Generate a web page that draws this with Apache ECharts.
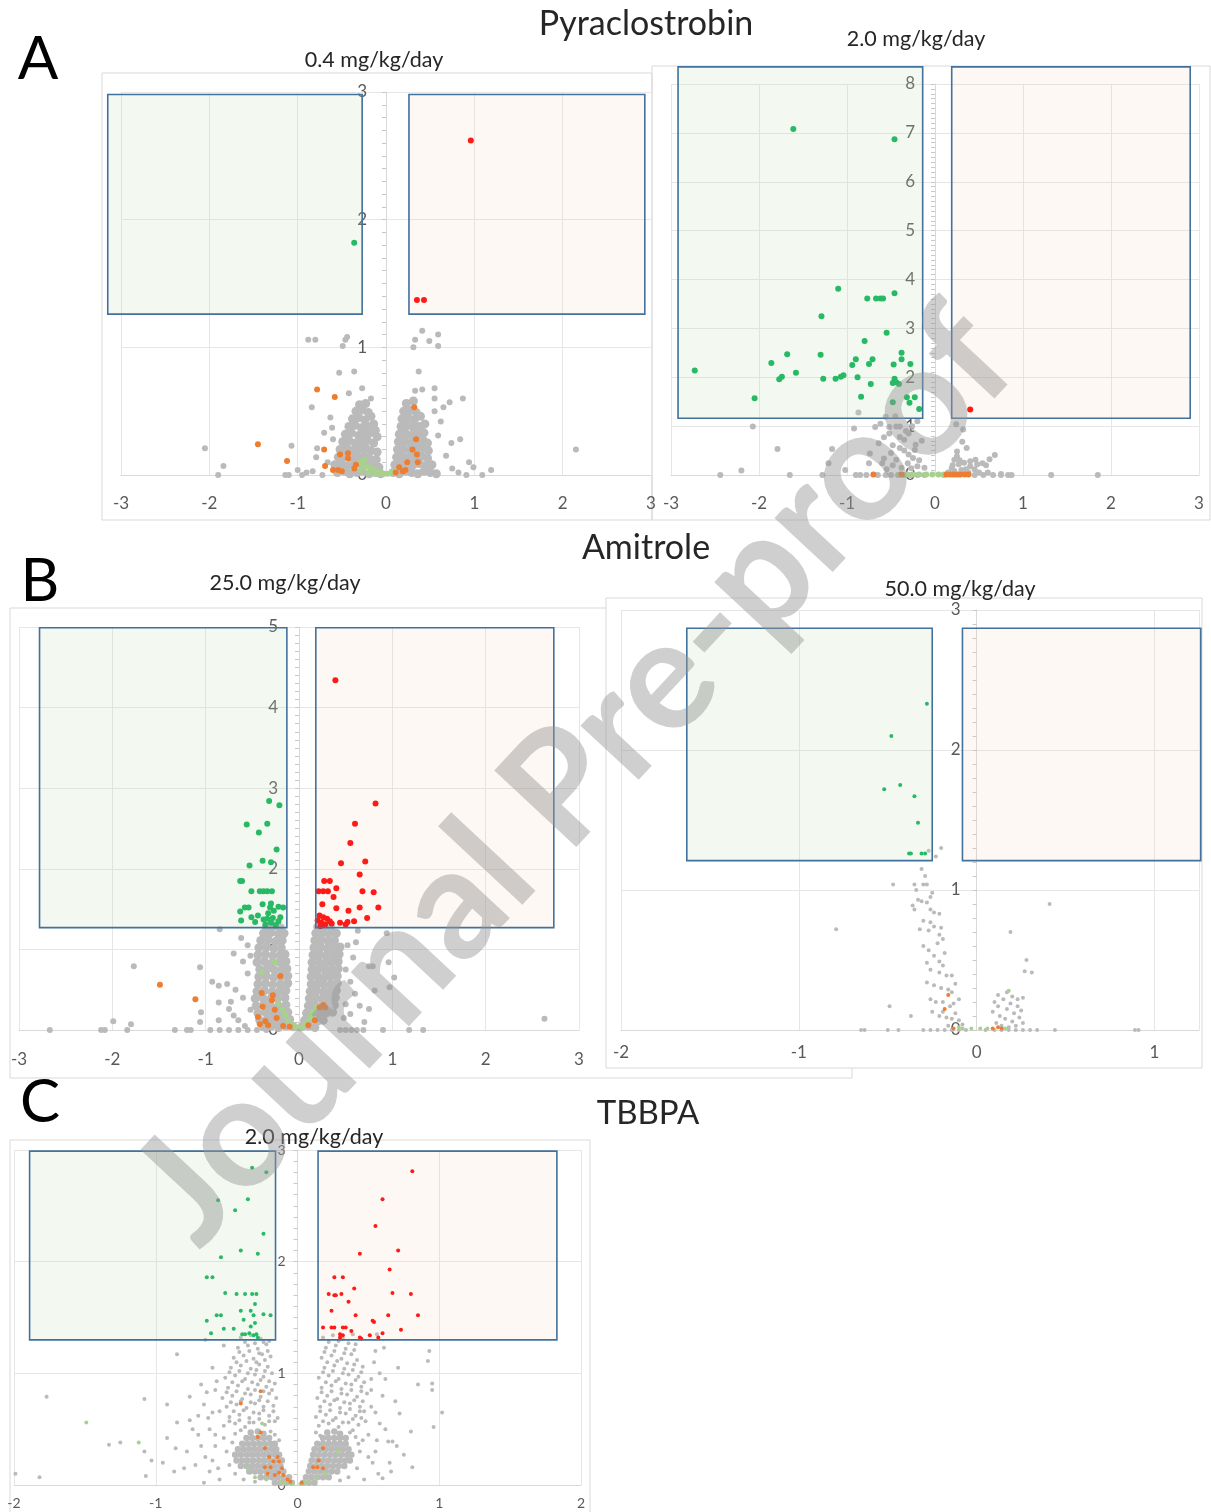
<!DOCTYPE html>
<html>
<head>
<meta charset="utf-8">
<script src="https://cdn.jsdelivr.net/npm/echarts@6/dist/echarts.min.js"></script>
<style>
  html, body { margin: 0; padding: 0; background: #fff; }
  #chart { width: 1211px; height: 1512px; }
</style>
</head>
<body>
<div id="chart"></div>
<script>
// ---- data: [log2 fold change, -log10 p] ----

// A, Pyraclostrobin 0.4 mg/kg/day
const aLeftGray = [
  [-2.05,0.21],[-1.84,0.07],[-1.9,0],[-1.14,0],[-1.1,0],[-1.07,0.23],[-1.0,0.04],[-0.9,0.02],[-0.95,0],[-0.83,0.03],
  [-0.78,0.21],[-0.79,0.14],[-0.72,0],[-0.66,0.1],[-0.84,0.53],[-0.61,0.37],[-0.63,0.45],[-0.6,0.28],[-0.7,0.33],
  [-0.53,0.8],[-0.36,0.81],[-0.88,1.06],[-0.8,1.06],[-0.46,1.06],[-0.44,1.08],[-0.49,1.01],[-0.27,0.68],[-0.17,0.6],[-0.42,0.64],
  [0.31,1.0],[0.33,1.06],[0.41,1.13],[0.49,1.05],[0.59,1.1],[0.59,1.01],[0.37,0.81],[0.55,0.68],[0.33,0.66],[0.41,0.67],
  [0.55,0.6],[0.87,0.6],[0.72,0.57],[0.65,0.53],[0.55,0.5],[0.59,0.31],[0.84,0.28],[0.74,0.25],[0.94,0.1],[0.99,0.06],
  [1.19,0.04],[1.09,0],[0.91,0],[2.15,0.2],[0.62,0.42],[0.68,0.15],[0.75,0.05],[0.82,0.02]
];
const aLeftGrayCore = [
  [-0.55,0.02],[-0.47,0.03],[-0.41,0.01],[-0.33,0.02],[-0.27,0.03],[-0.19,0.01],[-0.12,0.02],[-0.06,0.01],
  [-0.58,0.08],[-0.5,0.09],[-0.44,0.07],[-0.36,0.08],[-0.29,0.09],[-0.21,0.08],[-0.15,0.07],[-0.08,0.06],
  [-0.54,0.14],[-0.47,0.15],[-0.39,0.13],[-0.33,0.14],[-0.25,0.15],[-0.19,0.13],[-0.11,0.12],
  [-0.52,0.2],[-0.44,0.21],[-0.38,0.19],[-0.31,0.2],[-0.23,0.21],[-0.17,0.19],[-0.1,0.18],
  [-0.49,0.26],[-0.42,0.27],[-0.35,0.25],[-0.28,0.26],[-0.21,0.27],[-0.14,0.25],[-0.1,0.3],
  [-0.46,0.32],[-0.39,0.33],[-0.31,0.31],[-0.25,0.32],[-0.18,0.33],[-0.12,0.35],
  [-0.42,0.38],[-0.35,0.39],[-0.28,0.37],[-0.21,0.38],[-0.14,0.4],
  [-0.38,0.44],[-0.31,0.45],[-0.24,0.43],[-0.17,0.46],
  [-0.34,0.5],[-0.27,0.51],[-0.2,0.49],[-0.3,0.55],[-0.23,0.56],
  [0.08,0.02],[0.15,0.01],[0.22,0.03],[0.29,0.02],[0.36,0.01],[0.43,0.03],[0.5,0.02],[0.57,0.01],
  [0.1,0.08],[0.17,0.09],[0.24,0.07],[0.31,0.08],[0.38,0.09],[0.45,0.07],[0.52,0.08],
  [0.12,0.14],[0.19,0.15],[0.26,0.13],[0.33,0.14],[0.4,0.15],[0.47,0.13],
  [0.13,0.2],[0.2,0.21],[0.27,0.19],[0.34,0.2],[0.41,0.21],[0.48,0.19],
  [0.14,0.26],[0.21,0.27],[0.28,0.25],[0.35,0.26],[0.42,0.27],[0.47,0.25],
  [0.15,0.32],[0.22,0.33],[0.29,0.31],[0.36,0.32],[0.43,0.33],
  [0.17,0.38],[0.24,0.39],[0.31,0.37],[0.38,0.38],[0.44,0.4],
  [0.18,0.44],[0.25,0.45],[0.32,0.43],[0.39,0.46],
  [0.2,0.5],[0.27,0.51],[0.34,0.49],[0.23,0.56],[0.31,0.58]
];
const aLeftLightGreen = [[-0.3,0.1],[-0.26,0.08],[-0.22,0.07],[-0.18,0.05],[-0.14,0.04],[-0.1,0.03],[-0.06,0.02],[-0.02,0.01],
  [0.02,0.01],[0.06,0.02],[-0.28,0.04],[-0.2,0.02],[-0.24,0.12],[-0.12,0.01],[0.1,0.03]];
const aLeftOrange = [[-0.78,0.67],[-0.58,0.61],[-1.45,0.24],[-1.12,0.11],[-0.7,0.2],[-0.69,0.07],[-0.52,0.16],[-0.43,0.17],
  [-0.43,0.13],[-0.6,0.04],[-0.54,0.04],[-0.36,0.05],[-0.34,0.08],[-0.5,0.03],[0.32,0.53],[0.34,0.28],[0.3,0.2],[0.35,0.16],
  [0.36,0.1],[0.24,0.1],[0.15,0.06],[0.11,0.02],[0.19,0.03],[0.22,0.04]];
const aLeftGreen = [[-0.36,1.82]];
const aLeftRed = [[0.96,2.62],[0.35,1.37],[0.43,1.37]];
const aLeftBoxes = [[-3.15,1.26,-0.27,2.98],[0.26,1.26,2.93,2.98]];

// A, Pyraclostrobin 2.0 mg/kg/day
const aRightGray = [
  [-2.07,0.99],[-1.79,0.53],[-2.2,0.09],[-2.44,0],[-1.65,0],[-1.28,0],[-1.21,0.24],[-1.17,0.53],[-1.02,0.1],
  [-0.92,0.95],[-0.87,1.28],[-0.9,0],[-0.85,0],[-0.78,0],[-0.65,0],[-0.56,0],[-0.5,0],[-0.42,0],[-0.35,0],[-0.28,0],[-0.2,0],[-0.12,0],
  [-0.68,0.98],[-0.56,1.19],[-0.58,0.77],[-0.52,0.98],[-0.44,0.99],[-0.4,0.99],[-0.64,0.65],[-0.58,0.34],[-0.6,0.24],
  [-0.74,0.44],[-0.75,0.24],[-0.4,0.78],[-0.35,0.72],[-0.23,0.51],[-0.44,0.31],[-0.31,0.24],[-0.27,0.14],[-0.48,0.61],
  [-0.5,0.45],[-0.3,0.85],[-0.2,1.1],[-0.25,0.35],[-0.35,0.5],[-0.62,1.05],[-0.45,1.2],[-0.15,0.7],[-0.18,0.3],[-0.12,0.15],
  [-0.38,0.15],[-0.48,0.2],[-0.22,0.62],[-0.3,0.42],[-0.4,0.55],[-0.55,0.12],[-0.2,0.18],[-0.33,0.9],[-0.26,1.0],[-0.52,0.85],
  [0.24,1.04],[0.32,0.93],[0.31,0.68],[0.36,0.55],[0.25,0.48],[0.22,0.31],[0.46,0.31],[0.54,0.24],[0.68,0.41],[0.58,0.2],
  [0.66,0],[0.75,0],[0.83,0],[0.87,0],[1.32,0],[1.85,0],[0.45,0],[0.55,0],[0.1,0],
  [0.2,0.2],[0.27,0.22],[0.33,0.25],[0.4,0.18],[0.45,0.12],[0.3,0.1],[0.22,0.08],[0.5,0.05],[0.6,0.05],[0.75,0.02],
  [0.25,0.38],[0.4,0.28],[0.62,0.32],[0.48,0.22],[0.35,0.12],[0.15,0.05],[0.28,0.3],[0.19,0.14],[0.38,0.05],[0.3,0.02]
];
const aRightGrayCore = [];
const aRightLightGreen = [[-0.4,0.01],[-0.32,0.01],[-0.25,0.01],[-0.18,0.01],[-0.1,0.01],[-0.03,0.01],[0.04,0.01],[0.1,0.01]];
const aRightOrange = [[-0.7,0.01],[-0.38,0.01],[0.13,0.01],[0.17,0.01],[0.2,0.01],[0.23,0.01],[0.26,0.01],[0.29,0.01],[0.34,0.01],[0.38,0.01]];
const aRightGreen = [
  [-1.61,7.08],[-0.46,6.87],[-1.1,3.81],[-0.46,3.72],[-0.77,3.61],[-0.67,3.61],[-0.62,3.61],[-0.59,3.61],[-1.29,3.25],
  [-0.55,2.91],[-0.8,2.74],[-0.38,2.5],[-1.68,2.47],[-1.3,2.46],[-0.9,2.37],[-0.71,2.37],[-0.38,2.37],[-1.86,2.29],
  [-0.94,2.25],[-0.75,2.27],[-0.47,2.26],[-0.28,2.27],[-2.73,2.14],[-1.58,2.09],[-1.74,2.01],[-1.77,1.96],[-1.27,1.97],
  [-1.13,1.97],[-1.07,2.01],[-1.04,2.04],[-0.88,2.0],[-0.73,1.86],[-0.46,1.97],[-0.44,1.9],[-0.41,1.86],[-0.48,1.88],
  [-2.05,1.57],[-0.84,1.6],[-0.32,1.59],[-0.23,1.59],[-0.48,1.49],[-0.29,1.48],[-0.18,1.35]
];
const aRightRed = [[0.4,1.34]];
const aRightBoxes = [[-2.92,1.16,-0.14,8.35],[0.19,1.16,2.9,8.35]];

// B, Amitrole 25.0 mg/kg/day
const bLeftGray = [
  [-1.77,0.79],[-1.06,0.78],[-1.99,0.11],[-1.8,0.07],[-2.67,0],[-2.12,0],[-2.08,0],[-1.84,0],[-1.33,0],[-1.2,0],[-1.16,0],
  [-0.93,0.6],[-0.86,0.55],[-0.77,0.57],[-0.86,0.34],[-0.86,0.12],[-1.05,0.22],[-1.06,0.1],[-0.75,0.26],[-0.7,0.18],
  [-0.65,0.12],[-0.58,0.05],[-0.52,0.92],[-0.62,1.14],[-0.85,1.25],[-0.95,0],[-0.85,0],[-0.75,0],[-0.65,0],[-0.55,0],
  [-0.6,0.4],[-0.55,0.7],[-0.6,0.85],[-0.52,0.25],[-0.55,1.05],[-0.7,0.95],[-0.68,0.5],[-0.73,0.35],[-0.45,0],[-0.35,0],
  [0.94,1.2],[0.96,0.84],[0.75,0.79],[0.79,0.79],[1.02,0.65],[0.97,0.53],[0.81,0.49],[0.75,0.26],[0.5,0.32],[0.61,1.09],
  [0.63,1.23],[0.9,0],[1.18,0],[1.33,0],[2.63,0.14],[0.44,0],[0.5,0],[0.56,0],[0.62,0],[0.69,0],[0.55,0.6],[0.58,0.9],
  [0.5,0.75],[0.6,0.45],[0.52,1.05],[0.48,0.15],[0.55,0.2],[0.65,0.3],[0.7,0.1]
];
const bLeftGrayCore = [
  [-0.38,0.04],[-0.3,0.05],[-0.22,0.03],[-0.14,0.05],[-0.06,0.04],
  [-0.42,0.12],[-0.34,0.13],[-0.26,0.11],[-0.18,0.12],[-0.1,0.13],
  [-0.44,0.21],[-0.36,0.22],[-0.28,0.2],[-0.2,0.21],[-0.12,0.22],
  [-0.46,0.3],[-0.38,0.31],[-0.3,0.29],[-0.22,0.3],[-0.14,0.31],
  [-0.47,0.39],[-0.39,0.4],[-0.31,0.38],[-0.23,0.39],[-0.15,0.4],
  [-0.45,0.48],[-0.37,0.49],[-0.29,0.47],[-0.21,0.48],[-0.14,0.49],
  [-0.44,0.57],[-0.36,0.58],[-0.28,0.56],[-0.2,0.57],[-0.12,0.58],
  [-0.43,0.66],[-0.35,0.67],[-0.27,0.65],[-0.19,0.66],[-0.12,0.67],
  [-0.42,0.75],[-0.34,0.76],[-0.26,0.74],[-0.18,0.75],[-0.13,0.76],
  [-0.45,0.84],[-0.37,0.85],[-0.29,0.83],[-0.21,0.84],[-0.14,0.85],
  [-0.44,0.93],[-0.36,0.94],[-0.28,0.92],[-0.2,0.93],[-0.15,0.94],
  [-0.43,1.02],[-0.35,1.03],[-0.27,1.01],[-0.19,1.02],
  [-0.41,1.11],[-0.33,1.12],[-0.25,1.1],[-0.18,1.11],
  [-0.38,1.2],[-0.3,1.21],[-0.22,1.19],[-0.16,1.2],[-0.35,1.28],[-0.27,1.29],[-0.2,1.27],
  [0.03,0.04],[0.1,0.05],[0.17,0.03],
  [0.06,0.12],[0.13,0.13],[0.2,0.11],[0.26,0.12],
  [0.08,0.21],[0.15,0.22],[0.22,0.2],[0.29,0.21],[0.36,0.22],
  [0.1,0.3],[0.17,0.31],[0.24,0.29],[0.31,0.3],[0.38,0.31],
  [0.11,0.39],[0.18,0.4],[0.25,0.38],[0.32,0.39],[0.39,0.4],
  [0.12,0.48],[0.19,0.49],[0.26,0.47],[0.33,0.48],[0.4,0.49],
  [0.13,0.57],[0.2,0.58],[0.27,0.56],[0.34,0.57],[0.41,0.58],
  [0.13,0.66],[0.2,0.67],[0.27,0.65],[0.34,0.66],[0.41,0.67],
  [0.14,0.75],[0.21,0.76],[0.28,0.74],[0.35,0.75],[0.42,0.76],
  [0.14,0.84],[0.21,0.85],[0.28,0.83],[0.35,0.84],[0.42,0.85],
  [0.15,0.93],[0.22,0.94],[0.29,0.92],[0.36,0.93],[0.43,0.94],
  [0.16,1.02],[0.23,1.03],[0.3,1.01],[0.37,1.02],[0.44,1.03],
  [0.17,1.11],[0.24,1.12],[0.31,1.1],[0.38,1.11],
  [0.18,1.2],[0.25,1.21],[0.32,1.19],[0.4,1.2],[0.2,1.28],[0.27,1.29],[0.34,1.27]
];
const bLeftLightGreen = [[-0.26,0.84],[-0.4,0.72],[-0.22,0.33],[-0.18,0.25],[-0.15,0.19],[-0.12,0.12],[-0.06,0.06],[0.01,0.02],
  [0.12,0.16],[0.15,0.22],[0.19,0.28],[-0.03,0.03],[0.06,0.06],[0.09,0.1]];
const bLeftOrange = [[-1.49,0.56],[-1.11,0.38],[-0.2,0.67],[-0.4,0.46],[-0.28,0.43],[-0.39,0.29],[-0.29,0.37],[-0.44,0.16],
  [-0.26,0.25],[-0.24,0.15],[-0.36,0.11],[-0.17,0.05],[-0.1,0.04],[0.1,0.06],[0.17,0.12],[0.22,0.28],[0.26,0.31],[0.28,0.28],
  [-0.33,0.06],[-0.42,0.07]];
const bLeftGreen = [
  [-0.32,2.84],[-0.21,2.79],[-0.56,2.55],[-0.34,2.56],[-0.43,2.45],[-0.24,2.24],[-0.53,2.04],[-0.39,2.1],[-0.3,2.08],
  [-0.63,1.85],[-0.61,1.85],[-0.51,1.72],[-0.42,1.72],[-0.34,1.72],[-0.29,1.72],[-0.38,1.72],[-0.58,1.52],[-0.54,1.52],
  [-0.39,1.56],[-0.3,1.57],[-0.31,1.52],[-0.22,1.53],[-0.17,1.52],[-0.63,1.47],[-0.51,1.4],[-0.44,1.42],[-0.38,1.37],
  [-0.34,1.38],[-0.28,1.39],[-0.22,1.35],[-0.62,1.36],[-0.47,1.34],[-0.36,1.31],[-0.3,1.33],[-0.25,1.3],[-0.33,1.45],
  [-0.27,1.48],[-0.2,1.4]
];
const bLeftRed = [
  [0.39,4.34],[0.82,2.81],[0.6,2.56],[0.55,2.32],[0.45,2.07],[0.71,2.09],[0.65,1.93],[0.27,1.85],[0.33,1.85],[0.4,1.76],
  [0.21,1.72],[0.26,1.72],[0.31,1.72],[0.68,1.72],[0.8,1.71],[0.37,1.65],[0.25,1.56],[0.4,1.51],[0.53,1.48],[0.65,1.52],
  [0.85,1.52],[0.73,1.39],[0.22,1.42],[0.26,1.4],[0.3,1.38],[0.33,1.35],[0.24,1.33],[0.35,1.32],[0.44,1.33],[0.52,1.34],
  [0.59,1.35],[0.5,1.31],[0.2,1.36],[0.28,1.31],[0.23,1.29]
];
const bLeftBoxes = [[-2.78,1.27,-0.13,4.99],[0.18,1.27,2.73,4.99]];

// B, Amitrole 50.0 mg/kg/day
const bRightGray = [
  [-0.35,1.04],[-0.3,1.04],[-0.28,1.04],[-0.33,0.93],[-0.31,0.92],[-0.28,0.91],[-0.26,0.95],
  [-0.36,0.89],[-0.35,0.86],[-0.26,0.86],[-0.24,0.84],[-0.21,0.83],[-0.3,0.78],[-0.26,0.77],[-0.24,0.74],[-0.2,0.73],
  [-0.32,0.72],[-0.27,0.71],[-0.21,0.68],[-0.19,0.65],[-0.3,0.6],[-0.27,0.57],[-0.24,0.53],[-0.21,0.49],[-0.19,0.46],
  [-0.26,0.43],[-0.21,0.41],[-0.17,0.39],[-0.14,0.39],[-0.28,0.34],[-0.24,0.32],[-0.2,0.3],[-0.16,0.29],[-0.14,0.27],
  [-0.26,0.22],[-0.23,0.2],[-0.19,0.2],[-0.15,0.17],[-0.13,0.19],[-0.25,0.13],[-0.21,0.1],[-0.17,0.09],[-0.14,0.08],[-0.1,0.07],
  [-0.34,1.0],[-0.29,1.1],[-0.25,0.98],[-0.22,0.62],[-0.18,0.55],[-0.28,0.48],[-0.12,0.33],[-0.1,0.22],[-0.19,0.13],
  [-0.08,0.04],[-0.16,0.03],[-0.12,0.12],[-0.31,1.15],[-0.23,1.24],[-0.27,1.28],[-0.2,1.3],
  [-0.3,0],[-0.26,0],[-0.22,0],[-0.18,0],[-0.14,0],[-0.1,0],[-0.06,0],[0.05,0],[0.1,0],[0.14,0],[0.18,0],[0.22,0],
  [0.26,0],[0.3,0],[0.34,0],
  [-0.79,0.72],[-0.47,1.04],[-0.49,0.17],[-0.37,0.1],[0.41,0.9],[0.19,0.7],[0.28,0.5],[0.27,0.42],[0.31,0.41],[0.26,0.23],
  [-0.65,0],[-0.63,0],[-0.5,0],[-0.44,0],[0.44,0],[0.89,0],[0.91,0],
  [0.1,0.2],[0.12,0.17],[0.15,0.22],[0.17,0.15],[0.19,0.19],[0.21,0.12],[0.23,0.17],[0.13,0.1],[0.16,0.08],[0.2,0.06],
  [0.24,0.09],[0.11,0.05],[0.14,0.03],[0.18,0.02],[0.22,0.03],[0.26,0.05],[0.09,0.13],[0.25,0.14],[0.12,0.25],[0.17,0.27],
  [0.2,0.24],[0.23,0.22]
];
const bRightGrayCore = [];
const bRightLightGreen = [[0.18,0.28],[-0.08,0.01],[-0.03,0.01],[0.02,0.01],[0.06,0.01],[-0.1,0.02],[0.16,0.01]];
const bRightOrange = [[-0.16,0.25],[-0.18,0.15],[-0.13,0.01],[0.09,0.01],[0.14,0.01],[0.12,0.02]];
const bRightGreen = [[-0.28,2.33],[-0.48,2.1],[-0.43,1.75],[-0.52,1.72],[-0.35,1.67],[-0.33,1.48],[-0.38,1.26],[-0.37,1.26],
  [-0.31,1.26],[-0.29,1.26]];
const bRightRed = [];
const bRightBoxes = [[-1.63,1.21,-0.25,2.87],[-0.08,1.21,1.26,2.87]];

// C, TBBPA 2.0 mg/kg/day
const cGray = [
  [-0.52,0.53],[-0.44,0.55],[-0.37,0.52],[-0.31,0.56],[-0.23,0.54],[-0.16,0.57],
  [-0.48,0.61],[-0.41,0.63],[-0.34,0.6],[-0.27,0.64],[-0.2,0.62],[-0.14,0.6],[-0.55,0.66],
  [-0.5,0.7],[-0.43,0.72],[-0.36,0.69],[-0.3,0.73],[-0.24,0.7],[-0.17,0.71],
  [-0.53,0.78],[-0.46,0.8],[-0.39,0.77],[-0.33,0.81],[-0.26,0.79],[-0.2,0.82],[-0.15,0.78],
  [-0.49,0.87],[-0.42,0.89],[-0.35,0.86],[-0.28,0.9],[-0.22,0.88],[-0.16,0.91],
  [-0.51,0.96],[-0.44,0.98],[-0.37,0.95],[-0.3,0.99],[-0.24,0.97],[-0.18,1.0],
  [-0.47,1.05],[-0.4,1.07],[-0.33,1.04],[-0.27,1.08],[-0.21,1.06],
  [-0.45,1.14],[-0.38,1.16],[-0.31,1.13],[-0.25,1.17],[-0.19,1.15],
  [-0.42,1.23],[-0.35,1.25],[-0.28,1.22],[-0.22,1.26],[-0.4,1.32],[-0.33,1.34],[-0.26,1.31],[-0.2,1.29],
  [-0.48,0.57],[-0.41,0.58],[-0.34,0.56],[-0.27,0.59],[-0.2,0.57],
  [-0.45,0.66],[-0.38,0.67],[-0.31,0.65],[-0.24,0.67],[-0.17,0.66],
  [-0.47,0.74],[-0.4,0.75],[-0.33,0.74],[-0.27,0.76],[-0.21,0.75],
  [-0.5,0.83],[-0.43,0.84],[-0.37,0.82],[-0.3,0.85],[-0.24,0.84],[-0.18,0.85],
  [-0.46,0.92],[-0.39,0.93],[-0.32,0.92],[-0.26,0.94],[-0.2,0.93],
  [-0.48,1.01],[-0.41,1.02],[-0.35,1.0],[-0.29,1.03],[-0.23,1.02],
  [-0.43,1.1],[-0.36,1.11],[-0.29,1.1],[-0.23,1.12],
  [-0.41,1.19],[-0.34,1.2],[-0.27,1.18],[-0.21,1.2],[-0.37,1.28],[-0.3,1.27],[-0.24,1.28],
  [-0.5,0.3],[-0.52,0.42],[-0.48,0.18],[-0.44,0.1],[-0.38,0.05],[-0.3,0.03],
  [-0.44,0.46],[-0.4,0.49],[-0.19,0.48],[-0.16,0.45],[-0.46,0.38],[-0.13,0.4],
  [-0.62,0.5],[-0.66,0.72],[-0.7,0.62],[-0.57,0.93],[-0.6,0.22],[-0.68,0.35],[-0.74,0.5],[-0.8,0.15],[-0.64,0.83],[-0.58,0.45],
  [-1.77,0.79],[-1.08,0.77],[-0.92,0.72],[-1.99,0.1],[-1.82,0.07],[-1.33,0.36],[-1.25,0.38],[-1.08,0.3],[-1.03,0.22],
  [-1.07,0.08],[-0.87,0.12],[-0.86,0.33],[-0.76,0.58],[-0.85,0.56],[-0.85,1.17],[-0.76,0.79],[-0.7,0.45],[-0.65,0.25],
  [-0.62,0.12],[-0.68,0.9],[-0.6,1.05],[-0.72,0.18],[-0.58,0.35],[-0.6,0.65],[-0.63,0.6],[-0.66,0.02],[-0.55,0.05],
  [-0.78,0.3],[-0.92,0.42],[-0.58,0.85],[-0.52,1.25],[-0.65,1.3],[-0.95,0.2],[-0.56,0.15],
  [0.15,0.53],[0.22,0.55],[0.29,0.52],[0.36,0.56],[0.43,0.54],[0.48,0.57],
  [0.13,0.61],[0.2,0.63],[0.27,0.6],[0.34,0.64],[0.41,0.62],[0.47,0.66],
  [0.16,0.7],[0.23,0.72],[0.3,0.69],[0.37,0.73],[0.44,0.7],
  [0.14,0.78],[0.21,0.8],[0.28,0.77],[0.35,0.81],[0.42,0.79],[0.49,0.82],
  [0.17,0.87],[0.24,0.89],[0.31,0.86],[0.38,0.9],[0.45,0.88],
  [0.15,0.96],[0.22,0.98],[0.29,0.95],[0.36,0.99],[0.43,0.97],
  [0.19,1.05],[0.26,1.07],[0.33,1.04],[0.4,1.08],[0.46,1.06],
  [0.17,1.14],[0.24,1.16],[0.31,1.13],[0.38,1.17],
  [0.2,1.23],[0.27,1.25],[0.34,1.22],[0.41,1.26],[0.18,1.32],[0.25,1.34],[0.32,1.31],[0.39,1.35],
  [0.18,0.57],[0.25,0.58],[0.32,0.56],[0.39,0.59],[0.45,0.6],
  [0.16,0.66],[0.23,0.67],[0.3,0.65],[0.37,0.68],[0.44,0.66],
  [0.19,0.75],[0.26,0.76],[0.33,0.74],[0.4,0.76],[0.46,0.75],
  [0.17,0.83],[0.24,0.84],[0.31,0.82],[0.38,0.85],[0.45,0.84],
  [0.2,0.92],[0.27,0.93],[0.34,0.91],[0.41,0.94],[0.47,0.92],
  [0.18,1.01],[0.25,1.02],[0.32,1.0],[0.39,1.03],[0.45,1.01],
  [0.21,1.1],[0.28,1.11],[0.35,1.09],[0.42,1.12],
  [0.19,1.19],[0.26,1.2],[0.33,1.18],[0.4,1.21],[0.22,1.28],[0.29,1.29],[0.36,1.27],
  [0.44,0.3],[0.46,0.4],[0.42,0.15],[0.36,0.07],[0.3,0.04],[0.5,0.45],
  [0.13,0.47],[0.16,0.44],[0.37,0.47],[0.41,0.43],[0.39,0.49],[0.43,0.37],
  [0.55,0.65],[0.6,0.8],[0.5,0.25],[0.56,0.4],[0.62,0.5],[0.58,1.0],[0.65,0.2],[0.7,0.35],[0.52,0.95],[0.55,1.2],
  [1.02,0.65],[0.96,0.52],[0.95,0.91],[0.95,0.85],[0.92,1.11],[0.93,1.2],[0.81,0.16],[0.8,0.48],[0.75,0.27],[0.72,0.64],
  [0.69,0.75],[0.64,0.39],[0.67,0.39],[0.57,0.1],[0.6,0.06],[0.61,1.23],[0.55,0.3],[0.52,0.85],[0.58,0.55],[0.54,1.1],
  [0.62,0.95],[0.53,0.2],[0.66,0.12],[0.52,0.7],[0.71,1.05],[0.56,1.35],[0.47,0.05],[0.85,0.9]
];
const cGrayCore = [
  [-0.16,0.02],[-0.12,0.02],[-0.08,0.02],[-0.04,0.02],
  [-0.26,0.07],[-0.22,0.07],[-0.18,0.07],[-0.14,0.07],[-0.1,0.07],[-0.06,0.07],
  [-0.34,0.12],[-0.3,0.12],[-0.26,0.12],[-0.22,0.12],[-0.18,0.12],[-0.14,0.12],[-0.1,0.12],
  [-0.4,0.17],[-0.36,0.17],[-0.32,0.17],[-0.28,0.17],[-0.24,0.17],[-0.2,0.17],[-0.16,0.17],[-0.12,0.17],
  [-0.43,0.22],[-0.39,0.22],[-0.35,0.22],[-0.31,0.22],[-0.27,0.22],[-0.23,0.22],[-0.19,0.22],[-0.15,0.22],[-0.11,0.22],
  [-0.44,0.27],[-0.4,0.27],[-0.36,0.27],[-0.32,0.27],[-0.28,0.27],[-0.24,0.27],[-0.2,0.27],[-0.16,0.27],[-0.13,0.27],
  [-0.42,0.32],[-0.38,0.32],[-0.34,0.32],[-0.3,0.32],[-0.26,0.32],[-0.22,0.32],[-0.18,0.32],[-0.15,0.32],
  [-0.39,0.37],[-0.35,0.37],[-0.31,0.37],[-0.27,0.37],[-0.23,0.37],[-0.19,0.37],[-0.16,0.37],
  [-0.36,0.42],[-0.32,0.42],[-0.28,0.42],[-0.24,0.42],[-0.2,0.42],
  [-0.33,0.47],[-0.28,0.48],[-0.24,0.46],
  [0.04,0.02],[0.08,0.02],[0.12,0.02],
  [0.06,0.07],[0.1,0.07],[0.14,0.07],[0.18,0.07],[0.22,0.07],
  [0.08,0.12],[0.12,0.12],[0.16,0.12],[0.2,0.12],[0.24,0.12],[0.28,0.12],
  [0.09,0.17],[0.13,0.17],[0.17,0.17],[0.21,0.17],[0.25,0.17],[0.29,0.17],[0.33,0.17],
  [0.1,0.22],[0.14,0.22],[0.18,0.22],[0.22,0.22],[0.26,0.22],[0.3,0.22],[0.34,0.22],[0.37,0.22],
  [0.11,0.27],[0.15,0.27],[0.19,0.27],[0.23,0.27],[0.27,0.27],[0.31,0.27],[0.35,0.27],[0.38,0.27],
  [0.12,0.32],[0.16,0.32],[0.2,0.32],[0.24,0.32],[0.28,0.32],[0.32,0.32],[0.36,0.32],
  [0.14,0.37],[0.18,0.37],[0.22,0.37],[0.26,0.37],[0.3,0.37],[0.34,0.37],
  [0.18,0.42],[0.22,0.42],[0.26,0.42],[0.3,0.42],[0.34,0.42],
  [0.21,0.47],[0.26,0.48],[0.3,0.46]
];
const cLightGreen = [[-1.49,0.56],[-1.12,0.38],[-0.3,0.07],[-0.22,0.05],[-0.12,0.03],[-0.04,0.01],[0.02,0.01],[0.08,0.03],
  [0.14,0.06],[0.2,0.1],[-0.35,0.15],[-0.25,0.55],[0.28,0.3],[-0.09,0.02],[0.05,0.02]];
const cOrange = [[-0.26,0.84],[-0.4,0.73],[-0.26,0.47],[-0.28,0.43],[-0.23,0.33],[-0.2,0.25],[-0.14,0.25],[-0.13,0.21],
  [-0.23,0.16],[-0.19,0.16],[-0.11,0.15],[-0.13,0.11],[-0.16,0.09],[-0.1,0.09],[-0.07,0.05],[-0.05,0.03],[0.18,0.33],
  [0.15,0.22],[0.14,0.16],[0.18,0.15],[0.11,0.16],[0.03,0.02],[-0.17,0.21],[-0.21,0.1]];
const cGreen = [
  [-0.32,2.84],[-0.22,2.8],[-0.56,2.55],[-0.35,2.56],[-0.44,2.46],[-0.24,2.25],[-0.54,2.04],[-0.4,2.1],[-0.28,2.07],
  [-0.64,1.86],[-0.6,1.86],[-0.51,1.72],[-0.43,1.71],[-0.37,1.71],[-0.32,1.71],[-0.29,1.71],[-0.3,1.62],[-0.4,1.56],
  [-0.57,1.52],[-0.54,1.52],[-0.33,1.56],[-0.31,1.52],[-0.24,1.53],[-0.19,1.52],[-0.64,1.47],[-0.38,1.48],[-0.52,1.4],
  [-0.45,1.4],[-0.61,1.36],[-0.39,1.35],[-0.37,1.35],[-0.34,1.36],[-0.31,1.34],[-0.29,1.35],[-0.28,1.32],[-0.33,1.42],
  [-0.3,1.45]
];
const cRed = [
  [0.81,2.81],[0.6,2.56],[0.55,2.32],[0.71,2.1],[0.44,2.07],[0.65,1.93],[0.26,1.86],[0.32,1.86],[0.4,1.76],[0.22,1.71],
  [0.26,1.7],[0.27,1.7],[0.31,1.71],[0.36,1.64],[0.67,1.72],[0.8,1.71],[0.24,1.56],[0.41,1.52],[0.53,1.47],[0.54,1.46],
  [0.64,1.52],[0.85,1.52],[0.73,1.39],[0.18,1.41],[0.24,1.41],[0.26,1.41],[0.32,1.41],[0.34,1.41],[0.3,1.35],[0.32,1.34],
  [0.38,1.38],[0.44,1.32],[0.45,1.31],[0.51,1.34],[0.57,1.32],[0.6,1.36],[0.3,1.32]
];
const cBoxes = [[-1.89,1.3,-0.155,2.99],[0.145,1.3,1.83,2.99]];

// axis ranges per panel
const xRanges = [[-3, 3], [-3, 3], [-3, 3], [-2, 1.25], [-2, 2]];
const yMax = [3, 8, 5, 3, 3];

const compounds = ['Pyraclostrobin', 'Amitrole', 'TBBPA'];
const panelLetters = ['A', 'B', 'C'];
const doses = ['0.4 mg/kg/day', '2.0 mg/kg/day', '25.0 mg/kg/day', '50.0 mg/kg/day', '2.0 mg/kg/day'];

// ---- chart ----
const FONT = 'Lato, "Open Sans", sans-serif';
const GRAY = '#bababa', LIGHT = '#a9d18e', ORANGE = '#ed7d31', GREEN = '#00b050', RED = '#ff0000';

const panels = [
  { gray: aLeftGray, core: aLeftGrayCore, light: aLeftLightGreen, orange: aLeftOrange, green: aLeftGreen, red: aLeftRed,
    boxes: aLeftBoxes, grid: { left: 121, top: 92, width: 530, height: 383 },
    dot: 6, grayDot: 6, coreDot: 9, font: 17, xm: 20, ym: 19 },
  { gray: aRightGray, core: aRightGrayCore, light: aRightLightGreen, orange: aRightOrange, green: aRightGreen, red: aRightRed,
    boxes: aRightBoxes, grid: { left: 671, top: 84, width: 528, height: 391 },
    dot: 6, grayDot: 6, coreDot: 8, font: 17, xm: 20, ym: 20 },
  { gray: bLeftGray, core: bLeftGrayCore, light: bLeftLightGreen, orange: bLeftOrange, green: bLeftGreen, red: bLeftRed,
    boxes: bLeftBoxes, grid: { left: 19, top: 627, width: 560, height: 403 },
    dot: 6, grayDot: 6, coreDot: 9, font: 17, xm: 21, ym: 21 },
  { gray: bRightGray, core: bRightGrayCore, light: bRightLightGreen, orange: bRightOrange, green: bRightGreen, red: bRightRed,
    boxes: bRightBoxes, grid: { left: 621, top: 610, width: 578, height: 420 },
    dot: 4, grayDot: 4, coreDot: 4, font: 17, xm: 14, ym: 16 },
  { gray: cGray, core: cGrayCore, light: cLightGreen, orange: cOrange, green: cGreen, red: cRed,
    boxes: cBoxes, grid: { left: 14, top: 1150, width: 567, height: 335 },
    dot: 4, grayDot: 4, coreDot: 6.5, font: 14, xm: 11, ym: 12 }
];

function intLabel(v) {
  return Number.isInteger(v) ? String(v) : '';
}

const grids = [], xAxes = [], yAxes = [], series = [];
panels.forEach(function (p, i) {
  const lo = xRanges[i][0], hi = xRanges[i][1];
  grids.push(Object.assign({ containLabel: false }, p.grid));
  xAxes.push({
    type: 'value', gridIndex: i, min: lo, max: hi, interval: 1,
    axisLine: { show: true, onZero: false, lineStyle: { color: '#d9d9d9' } },
    axisTick: { show: false },
    splitLine: { show: true, lineStyle: { color: '#e6e6e6' } },
    axisLabel: { color: '#595959', fontSize: p.font, margin: p.xm, fontFamily: FONT, formatter: intLabel }
  });
  // vertical axis sits at x = 0, as in the spreadsheet chart
  yAxes.push({
    type: 'value', gridIndex: i, min: 0, max: yMax[i], interval: 1, position: 'left',
    offset: -p.grid.width * (0 - lo) / (hi - lo),
    axisLine: { show: true, onZero: false, lineStyle: { color: '#d9d9d9' } },
    axisTick: { show: true, length: 4, lineStyle: { color: '#c8c8c8' } },
    minorTick: { show: true, splitNumber: 10, length: 4, lineStyle: { color: '#c8c8c8' } },
    splitLine: { show: true, lineStyle: { color: '#e6e6e6' } },
    axisLabel: { color: '#595959', fontSize: p.font, margin: p.ym, fontFamily: FONT }
  });
  const groups = [[p.core, GRAY, p.coreDot], [p.gray, GRAY, p.grayDot], [p.light, LIGHT, p.dot],
                  [p.orange, ORANGE, p.dot], [p.green, GREEN, p.dot], [p.red, RED, p.dot]];
  groups.forEach(function (g) {
    series.push({
      type: 'scatter', xAxisIndex: i, yAxisIndex: i, data: g[0], symbolSize: g[2],
      itemStyle: { color: g[1], opacity: 1 }, silent: true
    });
  });
});

const chart = echarts.init(document.getElementById('chart'));
chart.setOption({
  animation: false,
  backgroundColor: '#fff',
  textStyle: { fontFamily: FONT },
  grid: grids,
  xAxis: xAxes,
  yAxis: yAxes,
  series: series
});

// decorations: chart frames, titles, threshold boxes, watermark
const frame = { stroke: '#d9d9d9', fill: null, lineWidth: 1 };
const graphics = [
  { type: 'rect', shape: { x: 102, y: 73, width: 550, height: 447 }, style: frame, z: -1 },
  { type: 'rect', shape: { x: 652, y: 66, width: 558, height: 454 }, style: frame, z: -1 },
  { type: 'polyline', shape: { points: [[606, 608], [10, 608], [10, 1078], [852, 1078], [852, 1068]] }, style: frame, z: -1 },
  { type: 'rect', shape: { x: 606, y: 598, width: 596, height: 470 }, style: frame, z: -1 },
  { type: 'rect', shape: { x: 10, y: 1140, width: 580, height: 380 }, style: frame, z: -1 }
];

function txt(text, x, y, size, color) {
  return { type: 'text', x: x, y: y, z: 50,
    style: { text: text, font: size + 'px ' + FONT, fill: color, align: 'center', verticalAlign: 'middle' } };
}
graphics.push(txt(panelLetters[0], 38, 60, 60, '#000'));
graphics.push(txt(panelLetters[1], 40, 582, 60, '#000'));
graphics.push(txt(panelLetters[2], 40, 1103, 60, '#000'));
graphics.push(txt(compounds[0], 646, 24, 34, '#262626'));
graphics.push(txt(compounds[1], 646, 548, 34, '#262626'));
graphics.push(txt(compounds[2], 648, 1113, 33, '#262626'));
graphics.push(txt(doses[0], 374, 60, 21.5, '#262626'));
graphics.push(txt(doses[1], 916, 39, 21.5, '#262626'));
graphics.push(txt(doses[2], 285, 583, 21.5, '#262626'));
graphics.push(txt(doses[3], 960, 589, 21.5, '#262626'));
graphics.push(txt(doses[4], 314, 1137, 21.5, '#262626'));

// threshold boxes placed through each grid's own scales
const boxFill = ['rgba(197,224,180,0.2)', 'rgba(248,203,173,0.13)'];
panels.forEach(function (p, i) {
  p.boxes.forEach(function (b, k) {
    const p1 = chart.convertToPixel({ gridIndex: i }, [b[0], b[1]]);
    const p2 = chart.convertToPixel({ gridIndex: i }, [b[2], b[3]]);
    graphics.push({
      type: 'rect', z: 60,
      shape: { x: Math.min(p1[0], p2[0]), y: Math.min(p1[1], p2[1]),
               width: Math.abs(p2[0] - p1[0]), height: Math.abs(p2[1] - p1[1]) },
      style: { fill: boxFill[k], stroke: '#41719c', lineWidth: 1.6 }
    });
  });
});

graphics.push({
  type: 'text', x: 574, y: 776, rotation: 47 * Math.PI / 180, z: 100,
  style: { text: 'Journal Pre-proof', font: 'bold 155px ' + FONT, fill: 'rgba(150,150,150,0.46)',
           align: 'center', verticalAlign: 'middle' }
});

chart.setOption({ graphic: graphics });
</script>
</body>
</html>
